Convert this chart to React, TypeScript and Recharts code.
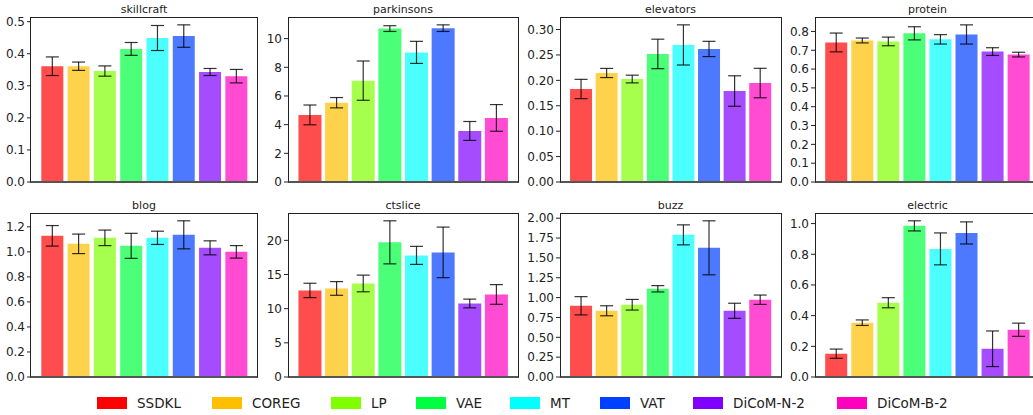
import React from "react"
import { Bar, BarChart, Cell, ErrorBar, XAxis, YAxis } from "recharts"

const methods = ["SSDKL", "COREG", "LP", "VAE", "MT", "VAT", "DiCoM-N-2", "DiCoM-B-2"]
const methodColors = ["#ff0000", "#ffbf00", "#80ff00", "#00ff40", "#00ffff", "#0040ff", "#8000ff", "#ff00bf"]

const skillcraftMean = [0.361, 0.361, 0.346, 0.415, 0.449, 0.455, 0.343, 0.33]
const skillcraftStd = [0.029, 0.013, 0.016, 0.02, 0.039, 0.035, 0.011, 0.021]
const skillcraftTicks = [0, 0.1, 0.2, 0.3, 0.4, 0.5]

const parkinsonsMean = [4.68, 5.53, 7.07, 10.7, 9.04, 10.73, 3.56, 4.47]
const parkinsonsStd = [0.69, 0.36, 1.37, 0.2, 0.77, 0.23, 0.66, 0.93]
const parkinsonsTicks = [0, 2, 4, 6, 8, 10]

const elevatorsMean = [0.183, 0.2145, 0.2026, 0.252, 0.2697, 0.2618, 0.179, 0.1947]
const elevatorsStd = [0.019, 0.009, 0.0076, 0.029, 0.0395, 0.015, 0.03, 0.029]
const elevatorsTicks = [0, 0.05, 0.1, 0.15, 0.2, 0.25, 0.3]

const proteinMean = [0.7415, 0.752, 0.747, 0.79, 0.758, 0.784, 0.693, 0.677]
const proteinStd = [0.05, 0.013, 0.023, 0.035, 0.025, 0.051, 0.0205, 0.0125]
const proteinTicks = [0, 0.1, 0.2, 0.3, 0.4, 0.5, 0.6, 0.7, 0.8]

const blogMean = [1.128, 1.064, 1.112, 1.048, 1.112, 1.136, 1.032, 1.0]
const blogStd = [0.082, 0.078, 0.062, 0.1, 0.053, 0.112, 0.056, 0.05]
const blogTicks = [0, 0.2, 0.4, 0.6, 0.8, 1.0, 1.2]

const ctsliceMean = [12.67, 12.96, 13.69, 19.71, 17.8, 18.24, 10.76, 12.08]
const ctsliceStd = [1.05, 1.0, 1.22, 3.15, 1.32, 3.7, 0.64, 1.44]
const ctsliceTicks = [0, 5, 10, 15, 20]

const buzzMean = [0.897, 0.834, 0.91, 1.111, 1.79, 1.627, 0.834, 0.973]
const buzzStd = [0.115, 0.063, 0.067, 0.04, 0.126, 0.34, 0.095, 0.059]
const buzzTicks = [0, 0.25, 0.5, 0.75, 1.0, 1.25, 1.5, 1.75, 2.0]

const electricMean = [0.152, 0.354, 0.484, 0.985, 0.835, 0.939, 0.184, 0.308]
const electricStd = [0.03, 0.018, 0.033, 0.033, 0.104, 0.072, 0.116, 0.043]
const electricTicks = [0, 0.2, 0.4, 0.6, 0.8, 1.0]

const panels = [
  { title: "skillcraft", mean: skillcraftMean, std: skillcraftStd, ticks: skillcraftTicks, digits: 1 },
  { title: "parkinsons", mean: parkinsonsMean, std: parkinsonsStd, ticks: parkinsonsTicks, digits: 0 },
  { title: "elevators", mean: elevatorsMean, std: elevatorsStd, ticks: elevatorsTicks, digits: 2 },
  { title: "protein", mean: proteinMean, std: proteinStd, ticks: proteinTicks, digits: 1 },
  { title: "blog", mean: blogMean, std: blogStd, ticks: blogTicks, digits: 1 },
  { title: "ctslice", mean: ctsliceMean, std: ctsliceStd, ticks: ctsliceTicks, digits: 0 },
  { title: "buzz", mean: buzzMean, std: buzzStd, ticks: buzzTicks, digits: 2 },
  { title: "electric", mean: electricMean, std: electricStd, ticks: electricTicks, digits: 1 },
]

// layout of the 2x4 grid (plot areas)
const colLeft = [30.5, 288, 560, 815]
const colWidth = [227, 230, 221, 225]
const rowTop = [17, 213]
const rowHeight = [165, 164]
const legendX = [97, 212, 331, 416, 510, 600, 693, 837]

const AXIS_W = 44
const MT = 8
const MB = 8

function Panel({ title, mean, std, ticks, digits, left, top, width, height }) {
  const data = methods.map((m, i) => ({ name: m, mean: mean[i], std: std[i] }))
  const yMax = Math.max(...mean.map((v, i) => v + std[i])) * 1.05
  // matplotlib-like side margins
  const pad = (width * 0.3175) / 8.635
  return (
    <>
      <div
        style={{
          position: "absolute",
          left,
          top: top - 14,
          width,
          textAlign: "center",
          fontSize: 11,
          lineHeight: "14px",
          color: "#222",
        }}
      >
        {title}
      </div>
      <div style={{ position: "absolute", left: left - AXIS_W, top: top - MT }}>
        <BarChart
          width={AXIS_W + width}
          height={height + MT + MB}
          data={data}
          margin={{ top: MT, right: 0, bottom: MB, left: 0 }}
          barCategoryGap="7.5%"
        >
          <XAxis dataKey="name" hide padding={{ left: pad, right: pad }} />
          <YAxis
            type="number"
            domain={[0, yMax]}
            ticks={ticks}
            allowDataOverflow
            interval={0}
            width={AXIS_W}
            axisLine={false}
            tickSize={4}
            tickLine={{ stroke: "#222" }}
            tick={{ fontSize: 12, fill: "#222" }}
            tickFormatter={(v) => v.toFixed(digits)}
          />
          <Bar dataKey="mean" isAnimationActive={false} fillOpacity={0.7}>
            {data.map((d, i) => (
              <Cell key={d.name} fill={methodColors[i]} />
            ))}
            <ErrorBar dataKey="std" width={6.5} stroke="#000" strokeWidth={1.2} strokeOpacity={0.8} isAnimationActive={false} />
          </Bar>
        </BarChart>
      </div>
      <div
        style={{
          position: "absolute",
          left: left - 0.5,
          top: top - 0.5,
          width: width + 1,
          height: height + 1,
          border: "1px solid #222",
          borderBottom: "2px solid #555",
          boxSizing: "border-box",
          pointerEvents: "none",
        }}
      />
    </>
  )
}

export default function App() {
  return (
    <div
      style={{
        position: "absolute",
        left: 0,
        top: 0,
        width: 1033,
        height: 415,
        overflow: "hidden",
        background: "#fff",
        fontFamily: "'DejaVu Sans', sans-serif",
      }}
    >
      {panels.map((p, i) => (
        <Panel
          key={p.title}
          {...p}
          left={colLeft[i % 4]}
          top={rowTop[Math.floor(i / 4)]}
          width={colWidth[i % 4]}
          height={rowHeight[Math.floor(i / 4)]}
        />
      ))}
      {methods.map((m, i) => (
        <div
          key={m}
          style={{ position: "absolute", left: legendX[i], top: 396, display: "flex", alignItems: "center", height: 14 }}
        >
          <div style={{ width: 30, height: 12, background: methodColors[i], marginRight: 10 }} />
          <span style={{ fontSize: 13.5, color: "#222", whiteSpace: "nowrap" }}>{m}</span>
        </div>
      ))}
    </div>
  )
}
